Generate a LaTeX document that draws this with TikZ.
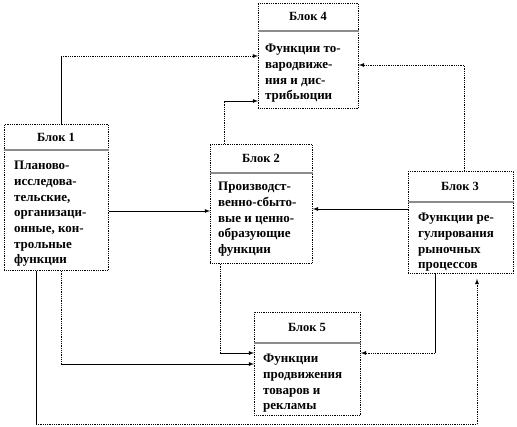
\documentclass[tikz,border=0pt]{standalone}
\usepackage{fontspec}
\setmainfont{Liberation Serif}
\begin{document}
\begin{tikzpicture}
      [x=1pt,y=-1pt,%%%%%%%%%%%%%%%%%%%%%%%%%%%%%%
      blok/.style={rectangle,draw=black,densely dotted,line width=0.8pt,anchor=north west,inner sep=0pt},
      head/.style={anchor=center,font=\fontsize{12.5}{15}\selectfont\bfseries},
      txt/.style={anchor=north west,inner sep=0pt,align=left,font=\fontsize{13}{15.7}\selectfont\bfseries},
      sep/.style={draw=black!45,line width=1.6pt},
      full/.style={line width=0.8pt},
      dots/.style={line width=0.8pt,densely dotted},
      arr/.style={-latex},
      ]%%%%%%%%%%%%%%%%%%%%%%%%%%%%%%
      \useasboundingbox (0,0) rectangle (517,426);

      % blocks
      \node[blok,minimum width=104pt,minimum height=146pt] (b1) at (4,124){};
      \node[head] (h1) at (56,137){Блок 1};
      \draw[sep] (b1.west |- 0,150) -- (b1.east |- 0,150);
      \node[txt] (t1) at (14,161){Планово-\\исследова-\\тельские,\\организаци-\\онные, кон-\\трольные\\функции};

      \node[blok,minimum width=102pt,minimum height=119pt] (b2) at (210,144){};
      \node[head] (h2) at (261,158){Блок 2};
      \draw[sep] (b2.west |- 0,173) -- (b2.east |- 0,173);
      \node[txt] (t2) at (218,182){Производст-\\венно-сбыто-\\вые и ценно-\\образующие\\функции};

      \node[blok,minimum width=105pt,minimum height=102pt] (b3) at (408,171){};
      \node[head] (h3) at (460,186){Блок 3};
      \draw[sep] (b3.west |- 0,202) -- (b3.east |- 0,202);
      \node[txt] (t3) at (418,213){Функции ре-\\гулирования\\рыночных\\процессов};

      \node[blok,minimum width=100pt,minimum height=105pt] (b4) at (258,3){};
      \node[head] (h4) at (308,16){Блок 4};
      \draw[sep] (b4.west |- 0,31) -- (b4.east |- 0,31);
      \node[txt] (t4) at (265,44){Функции то-\\вародвиже-\\ния и дис-\\трибьюции};

      \node[blok,minimum width=106pt,minimum height=103pt] (b5) at (254,312){};
      \node[head] (h5) at (307,327){Блок 5};
      \draw[sep] (b5.west |- 0,343) -- (b5.east |- 0,343);
      \node[txt] (t5) at (263,354){Функции\\продвижения\\товаров и\\рекламы};

      % corners
      \coordinate (c1) at (61,56);
      \coordinate (c2) at (224,101);
      \coordinate (c3) at (464,65);
      \coordinate (c4) at (160,211);
      \coordinate (c5) at (360,209);
      \coordinate (c6) at (220,353);
      \coordinate (c7) at (61,364);
      \coordinate (c8) at (435,353);
      \coordinate (c9) at (36,424);
      \coordinate (c10) at (477,424);

      % connectors
      \draw[full] (c1 |- b1.north) -- (c1);
      \draw[dots,arr] (c1) -- (c1 -| b4.west);
      \draw[dots] (c2 |- b2.north) -- (c2);
      \draw[full,arr] (c2) -- (c2 -| b4.west);
      \draw[dots] (c3 |- b3.north) -- (c3);
      \draw[dots,arr] (c3) -- (c3 -| b4.east);
      \draw[full,arr] (b1.east |- c4) -- (b2.west |- c4);
      \draw[full,arr] (b3.west |- c5) -- (b2.east |- c5);
      \draw[dots] (c6 |- b2.south) -- (c6);
      \draw[full,arr] (c6) -- (c6 -| b5.west);
      \draw[dots] (c7 |- b1.south) -- (c7);
      \draw[full,arr] (c7) -- (c7 -| b5.west);
      \draw[full] (c8 |- b3.south) -- (c8);
      \draw[dots,arr] (c8) -- (c8 -| b5.east);
      \draw[full] (c9 |- b1.south) -- (c9);
      \draw[dots] (c9) -- (c10);
      \draw[dots,arr,shorten >=5pt] (c10) -- (c10 |- b3.south);
    \end{tikzpicture}
\end{document}
